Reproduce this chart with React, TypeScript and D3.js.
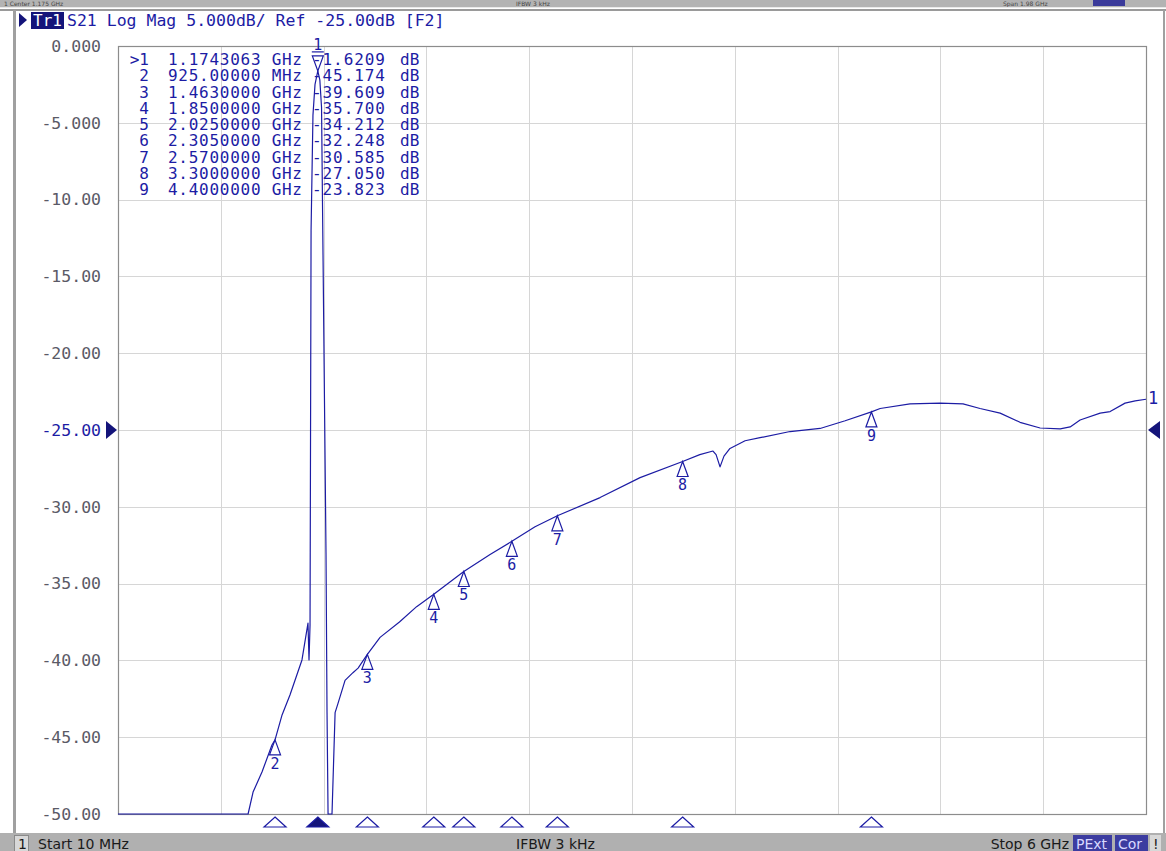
import React from 'react';
import * as d3 from 'd3';

// trace S21, frequency in GHz, magnitude in dB
const traceFreqGHz = [
  0.01, 0.768, 0.797, 0.849, 0.907, 0.925, 0.966, 1.012, 1.082, 1.117, 1.123, 1.129,
  1.135, 1.146, 1.158, 1.1743, 1.186, 1.196, 1.205, 1.222, 1.228, 1.234, 1.257, 1.275,
  1.292, 1.333, 1.379, 1.409, 1.463, 1.537, 1.65, 1.75, 1.85, 2.025, 2.178, 2.305,
  2.44, 2.57, 2.819, 3.052, 3.3, 3.4, 3.477, 3.495, 3.518, 3.541, 3.576, 3.664,
  3.751, 3.926, 4.101, 4.247, 4.4, 4.451, 4.625, 4.8, 4.934, 5.033, 5.15, 5.266,
  5.383, 5.5, 5.558, 5.616, 5.733, 5.791, 5.878, 5.937, 6.0,
];
const traceDb = [
  -50, -50, -48.57, -47.27, -45.51, -45.174, -43.55, -42.25, -39.97, -37.57, -39.97, -37.7,
  -12, -4.5, -2.5, -1.6209, -2.2, -4, -14, -33, -43.4, -50, -50, -43.4,
  -42.8, -41.3, -40.8, -40.5, -39.609, -38.5, -37.5, -36.5, -35.7, -34.212, -33.1, -32.248,
  -31.3, -30.585, -29.4, -28.1, -27.05, -26.6, -26.37, -26.6, -27.4, -26.7, -26.2, -25.7,
  -25.5, -25.1, -24.9, -24.4, -23.823, -23.6, -23.3, -23.25, -23.3, -23.6, -23.9, -24.5,
  -24.87, -24.93, -24.8, -24.35, -23.9, -23.8, -23.25, -23.1, -23.0,
];

// marker table
const markerIds = ['1', '2', '3', '4', '5', '6', '7', '8', '9'];
const markerFreqGHz = [1.1743063, 0.925, 1.463, 1.85, 2.025, 2.305, 2.57, 3.3, 4.4];
const markerFreqText = [
  '1.1743063 GHz', '925.00000 MHz', '1.4630000 GHz', '1.8500000 GHz', '2.0250000 GHz',
  '2.3050000 GHz', '2.5700000 GHz', '3.3000000 GHz', '4.4000000 GHz',
];
const markerDb = [-1.6209, -45.174, -39.609, -35.7, -34.212, -32.248, -30.585, -27.05, -23.823];

const yTicks = [0, -5, -10, -15, -20, -25, -30, -35, -40, -45, -50];
const refLevel = -25;
const startGHz = 0.01;
const stopGHz = 6;
const xDivisions = 10;

const W = 1166;
const H = 851;
const L = 118, R = 1146, T = 46, B = 814;

const BLUE = '#1c1ca4';
const NAVY = '#14147a';
const MONO = "'DejaVu Sans Mono', monospace";
const SANS = "'DejaVu Sans', sans-serif";

const fmtTick = (v: number) => (Math.abs(v) < 10 ? v.toFixed(3) : v.toFixed(2));

export default function App() {
  const x = d3.scaleLinear().domain([startGHz, stopGHz]).range([L, R]);
  const y = d3.scaleLinear().domain([-50, 0]).range([B, T]);

  const pts: [number, number][] = traceFreqGHz.map((f, i) => [f, traceDb[i]]);
  const line = d3.line<[number, number]>().x(d => x(d[0])).y(d => y(d[1]));

  const gridX = d3.range(1, xDivisions).map(i => x(startGHz + (i * (stopGHz - startGHz)) / xDivisions));

  return (
    <svg width={W} height={H} style={{ position: 'absolute', left: 0, top: 0, background: '#fff' }}>
      {/* top strip (mostly hidden behind the window edge) */}
      <rect x={0} y={0} width={W} height={7} fill="#b3b3b3" />
      <g fontFamily={SANS} fontSize={6} fill="#444">
        <text x={4} y={6}>1  Center 1.175 GHz</text>
        <text x={516} y={6}>IFBW 3 kHz</text>
        <text x={1003} y={6}>Span 1.98 GHz</text>
      </g>
      <rect x={1093} y={0} width={32} height={6} fill="#3a3a9a" />
      <rect x={0} y={7} width={W} height={1} fill="#e8e8e8" />
      <rect x={0} y={9} width={W} height={2} fill="#9a9a9a" />
      <rect x={13} y={10} width={3} height={824} fill="#a0a0a0" />
      <rect x={1163} y={10} width={2} height={824} fill="#a0a0a0" />

      {/* title line */}
      <path d="M19,13 L27,20 L19,27 Z" fill={NAVY} />
      <rect x={31} y={12} width={33} height={17} fill={NAVY} />
      <text x={33} y={25.5} fontFamily={MONO} fontSize={16} fill="#fff">Tr1</text>
      <text x={67} y={26} fontFamily={MONO} fontSize={16.5} fill={BLUE}>
        S21 Log Mag 5.000dB/ Ref -25.00dB [F2]
      </text>

      {/* grid */}
      <g stroke="#d6d6d6" strokeWidth={1}>
        {yTicks.filter(t => t !== 0 && t !== -50).map(t => (
          <line key={t} x1={L} x2={R} y1={Math.round(y(t)) + 0.5} y2={Math.round(y(t)) + 0.5} />
        ))}
        {gridX.map((gx, i) => (
          <line key={i} x1={Math.round(gx) + 0.5} x2={Math.round(gx) + 0.5} y1={T} y2={B} />
        ))}
      </g>
      <rect x={L + 0.5} y={T + 0.5} width={R - L} height={B - T} fill="none" stroke="#8c8c8c" strokeWidth={1.2} />

      {/* y labels */}
      <g fontFamily={MONO} fontSize={16.5} textAnchor="end">
        {yTicks.map(t => (
          <text key={t} x={101} y={y(t)} dy="0.35em" fill={t === refLevel ? BLUE : '#5a5a66'}>
            {fmtTick(t)}
          </text>
        ))}
      </g>

      {/* reference arrows */}
      <path d={`M106,${y(refLevel) - 9} L117,${y(refLevel)} L106,${y(refLevel) + 9} Z`} fill={NAVY} />
      <path d={`M1160,${y(refLevel) - 9} L1148,${y(refLevel)} L1160,${y(refLevel) + 9} Z`} fill={NAVY} />

      {/* marker table */}
      <g fontFamily={MONO} fontSize={16} fill={BLUE}>
        {markerIds.map((id, i) => {
          const ty = 65 + i * 16.25;
          return (
            <g key={id}>
              <text x={149} y={ty} textAnchor="end">{i === 0 ? '>' + id : id}</text>
              <text x={168} y={ty} textLength={134} lengthAdjust="spacing">{markerFreqText[i]}</text>
              <text x={312} y={ty} textLength={73} lengthAdjust="spacing">{markerDb[i].toFixed(markerDb[i] > -10 ? 4 : 3)}</text>
              <text x={400} y={ty}>dB</text>
            </g>
          );
        })}
      </g>

      {/* trace */}
      <path d={line(pts) || ''} fill="none" stroke={BLUE} strokeWidth={1.2} strokeLinejoin="round" />
      <text x={1148} y={404} fontFamily={MONO} fontSize={17} fill={BLUE}>1</text>

      {/* markers on trace */}
      <g fill="none" stroke={BLUE} strokeWidth={1.2}>
        {markerIds.map((id, i) => {
          const mx = x(markerFreqGHz[i]);
          const my = y(markerDb[i]);
          if (i === 0) {
            return (
              <g key={id}>
                <path d={`M${mx - 5.5},${my - 15} L${mx + 5.5},${my - 15} L${mx},${my} Z`} />
                <line x1={mx - 6} x2={mx + 6} y1={my - 19} y2={my - 19} />
                <text x={mx} y={my - 21} textAnchor="middle" fontFamily={MONO} fontSize={15} fill={BLUE} stroke="none">{id}</text>
              </g>
            );
          }
          return (
            <g key={id}>
              <path d={`M${mx},${my} L${mx + 5.5},${my + 15} L${mx - 5.5},${my + 15} Z`} />
              <text x={mx} y={my + 29} textAnchor="middle" fontFamily={MONO} fontSize={15} fill={BLUE} stroke="none">{id}</text>
            </g>
          );
        })}
      </g>

      {/* marker position triangles below the grid */}
      <g stroke={BLUE} strokeWidth={1.2}>
        {markerFreqGHz.map((f, i) => {
          const mx = x(f);
          return (
            <path key={i} d={`M${mx},817 L${mx + 11},827 L${mx - 11},827 Z`} fill={i === 0 ? NAVY : '#fff'} />
          );
        })}
      </g>

      {/* bottom status bar */}
      <rect x={0} y={833} width={W} height={18} fill="#b0b0b0" />
      <rect x={14.5} y={835.5} width={14} height={16} fill="#d8d8d8" stroke="#8a8a8a" />
      <g fontFamily={SANS} fontSize={14} fill="#1a1a1a">
        <text x={18} y={849}>1</text>
        <text x={38} y={849}>Start 10 MHz</text>
        <text x={516} y={849}>IFBW 3 kHz</text>
        <text x={1069} y={849} textAnchor="end">Stop 6 GHz</text>
      </g>
      <rect x={1073} y={835} width={39} height={16} fill="#3c3ca0" />
      <text x={1076} y={849} fontFamily={SANS} fontSize={14} fill="#d8d8ff">PExt</text>
      <rect x={1115} y={835} width={33} height={16} fill="#3c3ca0" />
      <text x={1118} y={849} fontFamily={SANS} fontSize={14} fill="#d8d8ff">Cor</text>
      <rect x={1150} y={835} width={11} height={16} fill="#d8d8d8" />
      <text x={1153} y={849} fontFamily={SANS} fontSize={14} fill="#222">!</text>
    </svg>
  );
}
